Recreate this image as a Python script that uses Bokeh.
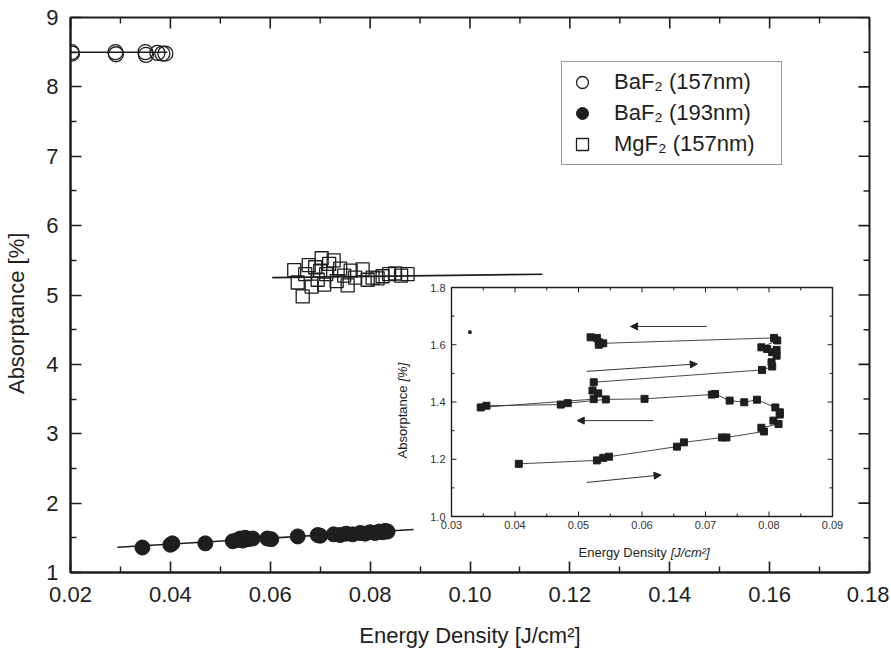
import math
from bokeh.plotting import figure
from bokeh.models import (Range1d, LinearAxis, FixedTicker, Legend, LegendItem,
                          Arrow, NormalHead)
from bokeh.core.properties import value
from bokeh.embed import file_html
from bokeh.resources import INLINE

# ---------------- data ----------------
# BaF2 (157 nm), open circles
baf157_x = [0.0202, 0.0203, 0.0290, 0.0291, 0.0350, 0.0351, 0.0374, 0.0384, 0.0390]
baf157_y = [8.50, 8.48, 8.50, 8.47, 8.50, 8.46, 8.49, 8.48, 8.48]
baf157_fit_x = [0.0200, 0.0394]
baf157_fit_y = [8.50, 8.50]

# BaF2 (193 nm), filled circles
baf193_x = [0.0344, 0.0400, 0.0404, 0.0470, 0.0525, 0.0535, 0.0540, 0.0545, 0.0550, 0.0556,
            0.0565, 0.0594, 0.0602, 0.0655, 0.0695, 0.0700, 0.0727, 0.0740, 0.0752, 0.0765,
            0.0780, 0.0790, 0.0800, 0.0810, 0.0818, 0.0825, 0.0830, 0.0835]
baf193_y = [1.36, 1.40, 1.42, 1.42, 1.45, 1.47, 1.49, 1.46, 1.50, 1.48,
            1.49, 1.49, 1.48, 1.52, 1.54, 1.53, 1.55, 1.54, 1.56, 1.55,
            1.57, 1.56, 1.58, 1.57, 1.59, 1.58, 1.60, 1.59]
baf193_fit_x = [0.0294, 0.0887]
baf193_fit_y = [1.363, 1.620]

# MgF2 (157 nm), open squares
mgf_x = [0.0648, 0.0655, 0.0665, 0.0670, 0.0677, 0.0683, 0.0690, 0.0695, 0.0700, 0.0703,
         0.0708, 0.0712, 0.0718, 0.0727, 0.0733, 0.0740, 0.0748, 0.0755, 0.0761, 0.0770,
         0.0785, 0.0795, 0.0805, 0.0815, 0.0825, 0.0838, 0.0850, 0.0862, 0.0875]
mgf_y = [5.36, 5.18, 4.98, 5.30, 5.43, 5.12, 5.40, 5.22, 5.35, 5.53,
         5.15, 5.30, 5.45, 5.50, 5.20, 5.38, 5.28, 5.14, 5.35, 5.25,
         5.37, 5.22, 5.25, 5.24, 5.27, 5.30, 5.31, 5.28, 5.30]
mgf_fit_x = [0.0604, 0.1145]
mgf_fit_y = [5.25, 5.30]

# main axes
x_lim = [0.02, 0.18]
y_lim = [1, 9]
x_major = [0.02, 0.04, 0.06, 0.08, 0.10, 0.12, 0.14, 0.16, 0.18]
x_minor = [0.03, 0.05, 0.07, 0.09, 0.11, 0.13, 0.15, 0.17]
x_labels = ["0.02", "0.04", "0.06", "0.08", "0.10", "0.12", "0.14", "0.16", "0.18"]
y_major = [1, 2, 3, 4, 5, 6, 7, 8, 9]
y_minor = [1.5, 2.5, 3.5, 4.5, 5.5, 6.5, 7.5, 8.5]
y_labels = ["1", "2", "3", "4", "5", "6", "7", "8", "9"]
x_title = "Energy Density [J/cm\u00b2]"
y_title = "Absorptance [%]"

# inset: BaF2 (193 nm) hysteresis path
inset_x = [0.0406, 0.0529, 0.0539, 0.0548, 0.0655, 0.0666, 0.0726, 0.0733, 0.0792, 0.0788,
           0.0815, 0.0807, 0.0817, 0.0817, 0.0810, 0.0781, 0.0761, 0.0738, 0.0715, 0.0710,
           0.0604, 0.0543, 0.0483, 0.0472, 0.0355, 0.0346, 0.0524, 0.0531, 0.0522, 0.0524,
           0.0789, 0.0805, 0.0804, 0.0812, 0.0805, 0.0812, 0.0797, 0.0788, 0.0813, 0.0808,
           0.0539, 0.0532, 0.0532, 0.0529, 0.0519]
inset_y = [1.184, 1.196, 1.205, 1.209, 1.244, 1.259, 1.276, 1.276, 1.297, 1.310,
           1.323, 1.335, 1.356, 1.364, 1.381, 1.408, 1.399, 1.405, 1.428, 1.426,
           1.411, 1.409, 1.396, 1.391, 1.387, 1.381, 1.410, 1.430, 1.440, 1.469,
           1.512, 1.524, 1.539, 1.562, 1.574, 1.582, 1.585, 1.591, 1.615, 1.624,
           1.605, 1.600, 1.609, 1.624, 1.626]
inset_dot_x = [0.0329]
inset_dot_y = [1.644]
arrow_x0 = [0.0702, 0.0513, 0.0618, 0.0513]
arrow_y0 = [1.664, 1.507, 1.335, 1.119]
arrow_x1 = [0.0582, 0.0687, 0.0498, 0.0630]
arrow_y1 = [1.664, 1.533, 1.335, 1.145]

ix_lim = [0.03, 0.09]
iy_lim = [1.0, 1.8]
ix_major = [0.03, 0.04, 0.05, 0.06, 0.07, 0.08, 0.09]
ix_minor = [0.035, 0.045, 0.055, 0.065, 0.075, 0.085]
ix_labels = ["0.03", "0.04", "0.05", "0.06", "0.07", "0.08", "0.09"]
iy_major = [1.0, 1.2, 1.4, 1.6, 1.8]
iy_minor = [1.1, 1.3, 1.5, 1.7]
iy_labels = ["1.0", "1.2", "1.4", "1.6", "1.8"]

legend_labels = ["BaF\u2082 (157nm)", "BaF\u2082 (193nm)", "MgF\u2082 (157nm)"]

# ---------------- layout ----------------
FONT = "Liberation Sans"
INK = "#1e1e1e"
W, H = 889, 655
BL, BR, BT, BB = 70, 20, 17, 83
FW, FH = W - BL - BR, H - BT - BB
# inset frame placement inside the main frame (pixels)
IL, IT, IW, IH = 381, 270, 381, 229

p = figure(width=W, height=H, x_range=Range1d(*x_lim), y_range=Range1d(*y_lim),
           output_backend="svg", toolbar_location=None,
           x_axis_location=None, y_axis_location=None,
           min_border_left=BL, min_border_right=BR, min_border_top=BT, min_border_bottom=BB)
p.grid.grid_line_color = None
p.outline_line_color = INK
p.outline_line_width = 2
p.background_fill_color = "white"
p.border_fill_color = "white"

ux = (ix_lim[1] - ix_lim[0]) / IW
uy = (iy_lim[1] - iy_lim[0]) / IH
p.extra_x_ranges = {"ix": Range1d(ix_lim[0] - IL * ux, ix_lim[1] + (FW - IL - IW) * ux)}
p.extra_y_ranges = {"iy": Range1d(iy_lim[0] - (FH - IT - IH) * uy, iy_lim[1] + IT * uy)}


def make_axis(ticks, minor, labels, label_standoff, title, title_standoff):
    ax = LinearAxis(ticker=FixedTicker(ticks=ticks, minor_ticks=minor))
    ax.major_label_overrides = {t: l for t, l in zip(ticks, labels)}
    ax.axis_line_width = 2
    ax.axis_line_color = INK
    ax.major_tick_line_color = INK
    ax.minor_tick_line_color = INK
    ax.major_tick_line_width = 1.6
    ax.minor_tick_line_width = 1.4
    ax.major_tick_in, ax.major_tick_out = 11, 0
    ax.minor_tick_in, ax.minor_tick_out = 6, 0
    ax.major_label_text_font = FONT
    ax.major_label_text_color = INK
    ax.major_label_text_font_size = "22px"
    ax.major_label_standoff = label_standoff
    ax.axis_label = title
    ax.axis_label_text_font = FONT
    ax.axis_label_text_font_size = "22px"
    ax.axis_label_text_font_style = "normal"
    ax.axis_label_text_color = INK
    ax.axis_label_standoff = title_standoff
    return ax


p.add_layout(make_axis(x_major, x_minor, x_labels, 14, x_title, 18), "below")
p.add_layout(make_axis(y_major, y_minor, y_labels, 12, y_title + "\u00a0" * 6, 14), "left")

# mirrored inward ticks on the top and right frame edges
mt = dict(line_color=INK, length_units="screen")
p.ray(x=x_major, y=[y_lim[1]] * len(x_major), length=11, angle=-math.pi / 2, line_width=1.6, **mt)
p.ray(x=x_minor, y=[y_lim[1]] * len(x_minor), length=6, angle=-math.pi / 2, line_width=1.4, **mt)
p.ray(x=[x_lim[1]] * len(y_major), y=y_major, length=11, angle=math.pi, line_width=1.6, **mt)
p.ray(x=[x_lim[1]] * len(y_minor), y=y_minor, length=6, angle=math.pi, line_width=1.4, **mt)

# ---------------- main series ----------------
p.line(baf157_fit_x, baf157_fit_y, line_color=INK, line_width=1.6)
r157 = p.scatter(baf157_x, baf157_y, marker="circle", size=15, fill_color=None,
                 line_color=INK, line_width=1.3)
p.line(baf193_fit_x, baf193_fit_y, line_color=INK, line_width=1.6)
r193 = p.scatter(baf193_x, baf193_y, marker="circle", size=15, fill_color=INK,
                 line_color=INK, line_width=1)
p.line(mgf_fit_x, mgf_fit_y, line_color=INK, line_width=1.6)
rmg = p.scatter(mgf_x, mgf_y, marker="square", size=13, fill_color=None,
                line_color=INK, line_width=1.3)

legend = Legend(items=[LegendItem(label=legend_labels[0], renderers=[r157]),
                       LegendItem(label=legend_labels[1], renderers=[r193]),
                       LegendItem(label=legend_labels[2], renderers=[rmg])],
                location=(491, 407))
legend.label_text_font = FONT
legend.label_text_font_size = "22px"
legend.label_text_color = INK
legend.label_text_baseline = "middle"
legend.glyph_width = 30
legend.glyph_height = 30
legend.label_height = 30
legend.spacing = 1
legend.padding = 5
legend.margin = 0
legend.label_standoff = 17
legend.label_width = 162
legend.border_line_color = "#333333"
legend.border_line_width = 1.5
legend.background_fill_color = "white"
legend.background_fill_alpha = 1
p.add_layout(legend, "center")

# ---------------- inset ----------------
ir = dict(x_range_name="ix", y_range_name="iy")
p.quad(left=[ix_lim[0]], right=[ix_lim[1]], bottom=[iy_lim[0]], top=[iy_lim[1]],
       fill_color="white", line_color=INK, line_width=1.4, **ir)

tick_kw = dict(line_color=INK, line_width=1.0, length_units="screen", **ir)
p.ray(x=ix_major, y=[iy_lim[0]] * len(ix_major), length=5, angle=math.pi / 2, **tick_kw)
p.ray(x=ix_minor, y=[iy_lim[0]] * len(ix_minor), length=3, angle=math.pi / 2, **tick_kw)
p.ray(x=ix_major, y=[iy_lim[1]] * len(ix_major), length=5, angle=-math.pi / 2, **tick_kw)
p.ray(x=ix_minor, y=[iy_lim[1]] * len(ix_minor), length=3, angle=-math.pi / 2, **tick_kw)
p.ray(x=[ix_lim[0]] * len(iy_major), y=iy_major, length=5, angle=0, **tick_kw)
p.ray(x=[ix_lim[0]] * len(iy_minor), y=iy_minor, length=3, angle=0, **tick_kw)
p.ray(x=[ix_lim[1]] * len(iy_major), y=iy_major, length=5, angle=math.pi, **tick_kw)
p.ray(x=[ix_lim[1]] * len(iy_minor), y=iy_minor, length=3, angle=math.pi, **tick_kw)

itxt = dict(text_font=value(FONT), text_font_size="11px", text_color="#333333", **ir)
p.text(x=ix_major, y=[iy_lim[0]] * len(ix_major), text=ix_labels, text_align="center",
       text_baseline="top", y_offset=4, **itxt)
p.text(x=[ix_lim[0]] * len(iy_major), y=iy_major, text=iy_labels, text_align="right",
       text_baseline="middle", x_offset=-6, **itxt)

ilab = dict(text_font=value(FONT), text_font_size="13px", text_color=INK,
            text_baseline="middle", **ir)
p.text(x=[0.0642], y=[iy_lim[0]], text=["Energy Density"], text_align="right",
       x_offset=-2, y_offset=36, **ilab)
p.text(x=[0.0642], y=[iy_lim[0]], text=["[J/cm\u00b2]"], text_align="left",
       text_font_style="italic", x_offset=2, y_offset=36, **ilab)
p.text(x=[ix_lim[0]], y=[1.4646], text=["Absorptance"], text_align="right", angle=math.pi / 2,
       x_offset=-49, y_offset=2, **ilab)
p.text(x=[ix_lim[0]], y=[1.4646], text=["[%]"], text_align="left", angle=math.pi / 2,
       text_font_style="italic", x_offset=-49, y_offset=-2, **ilab)

p.line(inset_x, inset_y, line_color="#333333", line_width=0.9, **ir)
p.scatter(inset_x, inset_y, marker="square", size=7, fill_color=INK, line_color=INK, **ir)
p.scatter(inset_dot_x, inset_dot_y, marker="square", size=2.5, fill_color=INK,
          line_color=INK, **ir)

for xs, ys, xe, ye in zip(arrow_x0, arrow_y0, arrow_x1, arrow_y1):
    p.add_layout(Arrow(x_start=xs, y_start=ys, x_end=xe, y_end=ye,
                       line_color="#333333", line_width=1,
                       end=NormalHead(size=7, fill_color=INK, line_color=INK, line_width=1),
                       **ir))

open("out.html", "w").write(file_html(p, INLINE))
